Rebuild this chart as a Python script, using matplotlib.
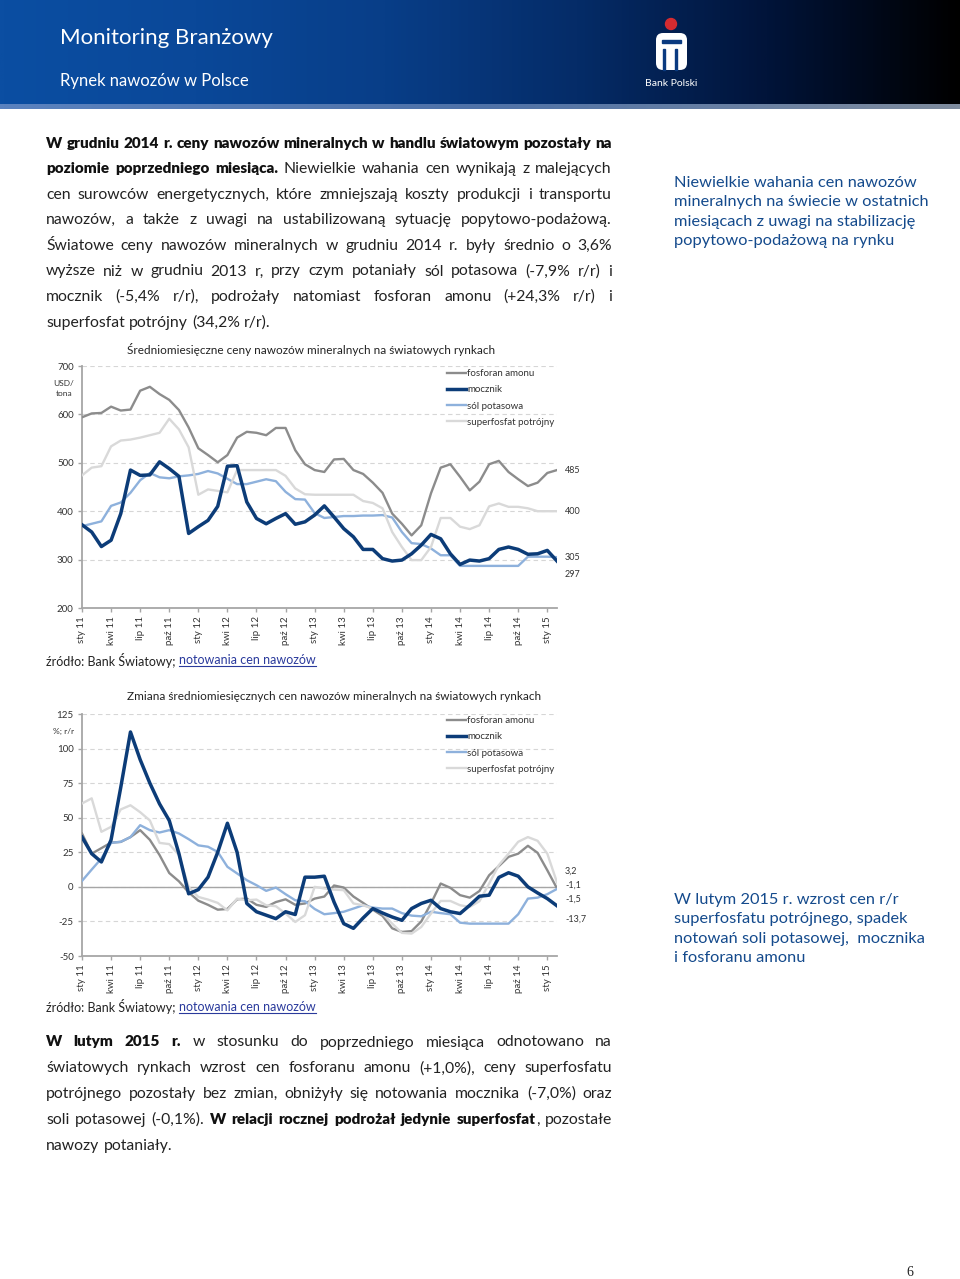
import numpy as np
import matplotlib.pyplot as plt
from matplotlib.colors import LinearSegmentedColormap
from matplotlib.patches import Circle, FancyBboxPatch, Rectangle
from matplotlib.lines import Line2D

plt.rcParams['font.family'] = ['Lato', 'DejaVu Sans']
plt.rcParams['axes.unicode_minus'] = False

W, H = 960, 1279

# ---- data (monthly, sty 11 .. lut 15) ----
tick_labels = ['sty 11', 'kwi 11', 'lip 11', 'paź 11', 'sty 12', 'kwi 12', 'lip 12', 'paź 12',
               'sty 13', 'kwi 13', 'lip 13', 'paź 13', 'sty 14', 'kwi 14', 'lip 14', 'paź 14', 'sty 15']
series_names = ['fosforan amonu', 'mocznik', 'sól potasowa', 'superfosfat potrójny']

fosforan_usd = [594, 602, 603, 616, 608, 610, 649, 657, 642, 630, 609, 573, 530, 516, 501, 516, 552, 564, 562, 557,
                572, 572, 526, 497, 485, 481, 507, 508, 485, 477, 459, 438, 395, 374, 350, 371, 437, 490, 497, 471,
                443, 461, 497, 504, 481, 466, 452, 459, 479, 485]
mocznik_usd = [372, 357, 327, 340, 395, 485, 474, 475, 502, 488, 472, 354, 368, 381, 410, 493, 494, 419, 385, 374,
               385, 395, 373, 378, 392, 411, 388, 364, 347, 321, 321, 302, 297, 299, 312, 330, 352, 343, 312, 290,
               299, 297, 302, 321, 326, 321, 311, 312, 319, 297]
sol_usd = [369, 374, 379, 411, 418, 438, 464, 479, 470, 468, 472, 474, 477, 483, 478, 467, 456, 456, 461, 466,
           462, 440, 425, 424, 396, 386, 388, 390, 390, 391, 391, 392, 387, 357, 334, 332, 323, 309, 309, 287,
           287, 287, 287, 287, 287, 287, 306, 306, 306, 305]
superfosfat_usd = [474, 490, 493, 534, 546, 548, 552, 557, 562, 591, 569, 532, 434, 445, 442, 439, 485, 485, 485, 485,
                   485, 473, 447, 435, 434, 434, 434, 434, 434, 421, 417, 406, 357, 326, 299, 299, 326, 386, 386, 368,
                   363, 371, 410, 416, 409, 409, 406, 400, 400, 400]

fosforan_rr = [38.6, 24, 28, 32, 32.5, 36, 41, 34, 23, 10, 4, -4, -10, -13, -16.5, -16, -9, -8.5, -13, -14.5,
               -11, -9, -13, -12, -8.5, -7, 1, -0.5, -7, -11.6, -16.5, -21, -30, -32.6, -32, -25, -12, 2.4, -0.7, -6,
               -7.8, -3, 8.4, 15, 21.7, 24, 29.7, 24.6, 12, -1.1]
mocznik_rr = [36, 24, 18, 34, 72, 112, 92, 75, 60, 48, 24, -5, -2, 7, 25, 46, 25, -12, -18, -20.5,
              -23, -18, -20, 7, 7, 7.7, -11, -26.6, -30, -22.5, -15.7, -18.9, -21.8, -24.2, -15.7, -12, -9.7, -15.7, -18, -19.3,
              -13.3, -6.8, -6, 6.8, 10.2, 7.7, 0, -4.4, -8.5, -13.7]
sol_rr = [4.3, 12.5, 20.5, 31.8, 32.6, 36, 44.6, 41, 39.3, 41, 38.6, 34.5, 30, 29, 25.3, 14.5, 9.7, 4.8, 1.2, -2.9,
          -0.5, -5.3, -9.7, -10.4, -16, -19.8, -19, -18, -15.7, -13.3, -15, -15.7, -15.7, -19, -20.8, -21.3, -18, -19, -19.8, -25.9,
          -26.6, -26.6, -26.6, -26.6, -26.6, -19.8, -8.5, -7.8, -5.3, -1.5]
superfosfat_rr = [60.3, 64, 39.8, 43.4, 56, 59, 54, 48, 31.8, 30.9, 23, 0, -7.3, -9.2, -11.6, -17, -8.5, -9.7, -9.2, -13.3,
                  -14, -19.3, -25.4, -20.5, 0, -1.2, -2, -2.4, -12, -13.3, -15.7, -19.3, -26.6, -33.3, -33.8, -29, -19.3, -10.2, -10.2, -13.3,
                  -14.5, -10.4, 2.4, 15.7, 24, 32.6, 36, 33.3, 24, 3.2]

end_labels_usd = ['485', '400', '305', '297']
end_labels_rr = ['3,2', '-1,1', '-1,5', '-13,7']

colors = ['#8c8c8c', '#0c3c78', '#8eb1dc', '#d9d9d9']
widths = [1.7, 2.5, 1.7, 1.7]

fig = plt.figure(figsize=(9.6, 12.79), dpi=100)
renderer = fig.canvas.get_renderer()


def fx(x):
    return x / W


def fy(y):
    return 1 - y / H


# ---- header ----
hax = fig.add_axes([0, fy(104), 1, 104 / H])
hdr = LinearSegmentedColormap.from_list('hdr', ['#0b4ea2', '#0a4899', '#083e88', '#052c68', '#01143a', '#000000'])
hax.imshow(np.linspace(0, 1, 400).reshape(1, -1), aspect='auto', cmap=hdr, extent=(0, W, 104, 0))
hax.set_xlim(0, W)
hax.set_ylim(104, 0)
hax.axis('off')
hax.add_patch(Circle((671, 24), 5.5, color='#d52b30'))
hax.add_patch(FancyBboxPatch((656, 33), 31, 37, boxstyle='round,pad=0,rounding_size=7', fc='white', ec='none'))
hax.add_patch(Rectangle((662, 40), 19, 2.5, color='#0a3a80'))
hax.add_patch(Rectangle((663, 49), 2, 21, color='#0a3a80'))
hax.add_patch(Rectangle((675, 49), 2, 21, color='#0a3a80'))

sax = fig.add_axes([0, fy(109), 1, 5 / H])
strip = LinearSegmentedColormap.from_list('strip', ['#5a82bf', '#4f72a8', '#7f8c9e'])
sax.imshow(np.linspace(0, 1, 400).reshape(1, -1), aspect='auto', cmap=strip)
sax.axis('off')

fig.text(fx(60), fy(38), 'Monitoring Branżowy', color='white', fontsize=16, va='center')
fig.text(fx(60), fy(81), 'Rynek nawozów w Polsce', color='white', fontsize=12, va='center')
fig.text(fx(671), fy(84), 'Bank Polski', color='white', fontsize=7.5, va='center', ha='center')


# ---- justified text ----
def text_line(runs, x0, y, width=None, size=11.3, bsize=11, color='#222222'):
    words = []
    new = True
    for txt, bold in runs:
        for i, p in enumerate(txt.split(' ')):
            if i > 0:
                new = True
            if p == '':
                continue
            if new:
                words.append([])
                new = False
            words[-1].append((p, bold))
    items = []
    total = 0
    for w in words:
        segs = []
        for p, bold in w:
            t = fig.text(0, 0, p, fontsize=bsize if bold else size, fontweight='heavy' if bold else 'normal',
                         color='#111111' if bold else color, va='baseline')
            segs.append((t, t.get_window_extent(renderer).width))
        wl = sum(b for _, b in segs)
        items.append((segs, wl))
        total += wl
    if width and len(items) > 1:
        gap = (width - total) / (len(items) - 1)
    else:
        gap = size * 0.27 * 100 / 72
    x = x0
    for segs, wl in items:
        for t, bw in segs:
            t.set_position((fx(x), fy(y)))
            x += bw
        x += gap


para1 = [
    [('W grudniu 2014 r. ceny nawozów mineralnych w handlu światowym pozostały na', True)],
    [('poziomie poprzedniego miesiąca.', True), (' Niewielkie wahania cen wynikają z malejących', False)],
    [('cen surowców energetycznych, które zmniejszają koszty produkcji i transportu', False)],
    [('nawozów, a także z uwagi na ustabilizowaną sytuację popytowo-podażową.', False)],
    [('Światowe ceny nawozów mineralnych w grudniu 2014 r. były średnio o 3,6%', False)],
    [('wyższe niż w grudniu 2013 r, przy czym potaniały sól potasowa (-7,9% r/r) i', False)],
    [('mocznik (-5,4% r/r), podrożały natomiast fosforan amonu (+24,3% r/r) i', False)],
    [('superfosfat potrójny (34,2% r/r).', False)],
]
for i, runs in enumerate(para1):
    text_line(runs, 46, 147.5 + i * 25.6, None if i == len(para1) - 1 else 566)

para2 = [
    [('W lutym 2015 r.', True), (' w stosunku do poprzedniego miesiąca odnotowano na', False)],
    [('światowych rynkach wzrost cen fosforanu amonu (+1,0%), ceny superfosfatu', False)],
    [('potrójnego pozostały bez zmian, obniżyły się notowania mocznika (-7,0%) oraz', False)],
    [('soli potasowej (-0,1%).', False), (' W relacji rocznej podrożał jedynie superfosfat', True), (', pozostałe', False)],
    [('nawozy potaniały.', False)],
]
for i, runs in enumerate(para2):
    text_line(runs, 46, 1046.5 + i * 25.8, None if i == len(para2) - 1 else 566)

side1 = ['Niewielkie wahania cen nawozów', 'mineralnych na świecie w ostatnich',
         'miesiącach z uwagi na stabilizację', 'popytowo-podażową na rynku']
for i, s in enumerate(side1):
    fig.text(fx(674), fy(183 + i * 19.3), s, color='#144a8c', fontsize=11.8, va='center')
side2 = ['W lutym 2015 r. wzrost cen r/r', 'superfosfatu potrójnego, spadek',
         'notowań soli potasowej,  mocznika', 'i fosforanu amonu']
for i, s in enumerate(side2):
    fig.text(fx(674), fy(900 + i * 19.3), s, color='#144a8c', fontsize=11.8, va='center')


def source(y):
    t = fig.text(fx(46), fy(y), 'źródło: Bank Światowy; ', fontsize=9, color='#222222', va='center')
    x = 46 + t.get_window_extent(renderer).width
    l = fig.text(fx(x), fy(y), 'notowania cen nawozów', fontsize=9, color='#2a3a9c', va='center')
    lw = l.get_window_extent(renderer).width
    fig.add_artist(Line2D([fx(x), fx(x + lw)], [fy(y + 6), fy(y + 6)], color='#2a3a9c', lw=0.8))


# ---- charts ----
def chart(top, bottom, data, ylim, yticks, title, title_y, unit, unit_y, legend_y, end_labels, end_pos, zero=False):
    ax = fig.add_axes([fx(82), fy(bottom), fx(557) - fx(82), (bottom - top) / H])
    xs = np.arange(len(data[0]))
    for vals, name, c, lw in zip(data, series_names, colors, widths):
        ax.plot(xs, vals, color=c, lw=lw, label=name, solid_joinstyle='round',
                zorder=4 if name == 'mocznik' else 3)
    ax.set_xlim(0, 49)
    ax.set_ylim(*ylim)
    ax.set_yticks(yticks)
    ax.set_xticks(np.arange(0, 49, 3))
    ax.set_xticklabels(tick_labels, rotation=90, fontsize=7, color='#333333')
    ax.tick_params(axis='y', labelsize=7, labelcolor='#333333', length=3, color='#a6a6a6', width=1, pad=3)
    ax.tick_params(axis='x', length=3, color='#a6a6a6', width=1, pad=3)
    for s in ['top', 'right']:
        ax.spines[s].set_visible(False)
    for s in ['left', 'bottom']:
        ax.spines[s].set_color('#a6a6a6')
        ax.spines[s].set_linewidth(1.3)
    ax.grid(axis='y', color='#d6d6d6', linestyle=(0, (4, 3)), linewidth=0.8)
    ax.set_axisbelow(True)
    if zero:
        ax.axhline(0, color='#a6a6a6', lw=1, zorder=1.5)
    ax.legend(loc='upper left', bbox_to_anchor=(fx(447), fy(legend_y)), bbox_transform=fig.transFigure,
              frameon=False, fontsize=7, handlelength=2.0, handletextpad=0.1, labelspacing=0.75,
              borderpad=0, borderaxespad=0, labelcolor='#333333')
    for s, v in zip(end_labels, end_pos):
        ax.annotate(s, xy=(49, v), xytext=(8, 0), textcoords='offset pixels', fontsize=6.5,
                    color='#333333', va='center', ha='left', annotation_clip=False)
    fig.text(fx(127), fy(title_y), title, fontsize=8.5, color='#222222', va='center')
    fig.text(fx(64), fy(unit_y), unit, fontsize=6, color='#333333', va='center', ha='center', linespacing=1.5)
    return ax


chart(366, 608, [fosforan_usd, mocznik_usd, sol_usd, superfosfat_usd], (200, 700), range(200, 701, 100),
      'Średniomiesięczne ceny nawozów mineralnych na światowych rynkach', 350, 'USD/\ntona', 389, 369,
      end_labels_usd, [485, 400, 305, 270])
source(660)

chart(714, 956, [fosforan_rr, mocznik_rr, sol_rr, superfosfat_rr], (-50, 125), range(-50, 126, 25),
      'Zmiana średniomiesięcznych cen nawozów mineralnych na światowych rynkach', 697, '%; r/r', 731, 716,
      end_labels_rr, [11.5, 1.4, -8.8, -23.2], zero=True)
source(1007)

fig.text(fx(910), fy(1272), '6', family='Liberation Serif', fontsize=10, color='#222222', va='center', ha='center')

fig.savefig('out.png', dpi=100)
